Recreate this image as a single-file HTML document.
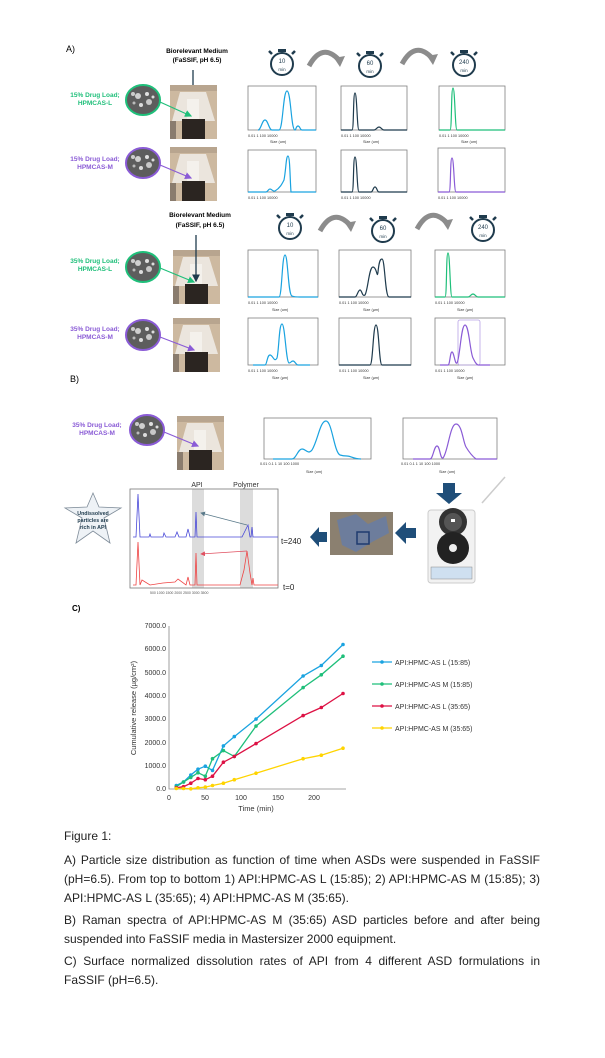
<!DOCTYPE html>
<html><head><meta charset="utf-8"><style>
html,body{margin:0;padding:0;background:#fff;}
svg{display:block;font-family:"Liberation Sans",Arial,sans-serif;}
.cap{position:absolute;left:64px;width:476px;font:12px/19px "Liberation Sans",Arial,sans-serif;color:#222;text-align:justify;}
</style></head><body>
<div style="position:relative;width:605px;height:1058px;overflow:hidden;">
<svg width="605" height="1058" viewBox="0 0 605 1058" xmlns="http://www.w3.org/2000/svg">
<defs>
<g id="photo">
<rect x="0" y="0" width="47" height="54" fill="#cdb9a0"/>
<rect x="0" y="0" width="47" height="6" fill="#b8a58f"/>
<path d="M10 7 L36 7 L45 36 L2 36 Z" fill="#ebe5dd"/>
<rect x="17" y="14" width="12" height="22" fill="#f4f1ec"/>
<rect x="12" y="34" width="23" height="20" fill="#2b2521"/>
<rect x="0" y="36" width="6" height="18" fill="#8a7c6e"/>
</g>
<g id="sem"><ellipse rx="17" ry="15" fill="#5d5d5d"/><circle cx="-5" cy="-4" r="3" fill="#cfcfcf"/><circle cx="4" cy="-6" r="2" fill="#e0e0e0"/><circle cx="6" cy="2" r="3" fill="#c8c8c8"/><circle cx="-2" cy="5" r="2" fill="#dcdcdc"/><circle cx="-9" cy="3" r="1.5" fill="#bbb"/><circle cx="10" cy="-3" r="1.5" fill="#ddd"/><circle cx="-10" cy="-6" r="2" fill="#ccc"/></g>
<g id="timer" fill="none" stroke="#1f3b4d"><circle r="11" stroke-width="2"/><rect x="-4" y="-15" width="8" height="3" fill="#1f3b4d" stroke="none"/><path d="M-10 -10 l-3 -3 M10 -10 l3 -3" stroke-width="2.5"/></g>
<marker id="ah" markerWidth="6" markerHeight="6" refX="5" refY="3" orient="auto"><path d="M0 0 L6 3 L0 6Z" fill="context-stroke"/></marker>
</defs>

<text x="66" y="52" font-size="9">A)</text>
<text x="197" y="53" font-size="6.5" font-weight="bold" text-anchor="middle">Biorelevant Medium</text>
<text x="197" y="62" font-size="6.5" font-weight="bold" text-anchor="middle">(FaSSIF, pH 6.5)</text>
<line x1="193" y1="70" x2="193" y2="114" stroke="#1f3b4d" stroke-width="1.3" marker-end="url(#ah)"/>

<use href="#timer" x="282" y="64"/><text x="282" y="63" font-size="6" text-anchor="middle" fill="#1f3b4d">10</text><text x="282" y="71" font-size="4.5" text-anchor="middle" fill="#1f3b4d">min</text>
<use href="#timer" x="370" y="66"/><text x="370" y="65" font-size="6" text-anchor="middle" fill="#1f3b4d">60</text><text x="370" y="73" font-size="4.5" text-anchor="middle" fill="#1f3b4d">min</text>
<use href="#timer" x="464" y="65"/><text x="464" y="64" font-size="6" text-anchor="middle" fill="#1f3b4d">240</text><text x="464" y="72" font-size="4.5" text-anchor="middle" fill="#1f3b4d">min</text>
<path d="M309 66 Q322 42 339 60" fill="none" stroke="#8c8c8c" stroke-width="5"/><path d="M334 58 L345 56 L340 67Z" fill="#8c8c8c"/>
<path d="M402 64 Q415 40 432 58" fill="none" stroke="#8c8c8c" stroke-width="5"/><path d="M427 56 L438 54 L433 65Z" fill="#8c8c8c"/>

<g font-size="6.5" font-weight="bold" text-anchor="middle">
<text x="95" y="97" fill="#1fbf7a">15% Drug Load;</text><text x="95" y="105" fill="#1fbf7a">HPMCAS-L</text>
<text x="95" y="161" fill="#8a5bd6">15% Drug Load;</text><text x="95" y="169" fill="#8a5bd6">HPMCAS-M</text>
<text x="95" y="263" fill="#1fbf7a">35% Drug Load;</text><text x="95" y="271" fill="#1fbf7a">HPMCAS-L</text>
<text x="95" y="331" fill="#8a5bd6">35% Drug Load;</text><text x="95" y="339" fill="#8a5bd6">HPMCAS-M</text>
<text x="97" y="427" fill="#8a5bd6">35% Drug Load;</text><text x="97" y="435" fill="#8a5bd6">HPMCAS-M</text>
</g>
<use href="#photo" x="170" y="85"/><use href="#photo" x="170" y="147"/>
<use href="#photo" x="173" y="250"/><use href="#photo" x="173" y="318"/><use href="#photo" x="177" y="416"/>
<g stroke-width="2" fill="none"><use href="#sem" x="143" y="100"/><ellipse cx="143" cy="100" rx="17" ry="15" stroke="#1fbf7a"/>
<use href="#sem" x="143" y="163"/><ellipse cx="143" cy="163" rx="17" ry="15" stroke="#8a5bd6"/>
<use href="#sem" x="143" y="267"/><ellipse cx="143" cy="267" rx="17" ry="15" stroke="#1fbf7a"/>
<use href="#sem" x="143" y="335"/><ellipse cx="143" cy="335" rx="17" ry="15" stroke="#8a5bd6"/>
<use href="#sem" x="147" y="430"/><ellipse cx="147" cy="430" rx="17" ry="15" stroke="#8a5bd6"/></g>
<g stroke-width="1.2"><line x1="160" y1="102" x2="191" y2="116" stroke="#1fbf7a" marker-end="url(#ah)"/>
<line x1="160" y1="165" x2="191" y2="178" stroke="#8a5bd6" marker-end="url(#ah)"/>
<line x1="160" y1="268" x2="194" y2="282" stroke="#1fbf7a" marker-end="url(#ah)"/>
<line x1="160" y1="337" x2="194" y2="350" stroke="#8a5bd6" marker-end="url(#ah)"/>
<line x1="164" y1="432" x2="198" y2="446" stroke="#8a5bd6" marker-end="url(#ah)"/></g>

<text x="200" y="217" font-size="6.5" font-weight="bold" text-anchor="middle">Biorelevant Medium</text>
<text x="200" y="227" font-size="6.5" font-weight="bold" text-anchor="middle">(FaSSIF, pH 6.5)</text>
<line x1="196" y1="235" x2="196" y2="281" stroke="#1f3b4d" stroke-width="1.3" marker-end="url(#ah)"/>
<use href="#timer" x="290" y="228"/><text x="290" y="227" font-size="6" text-anchor="middle" fill="#1f3b4d">10</text><text x="290" y="235" font-size="4.5" text-anchor="middle" fill="#1f3b4d">min</text>
<use href="#timer" x="383" y="231"/><text x="383" y="230" font-size="6" text-anchor="middle" fill="#1f3b4d">60</text><text x="383" y="238" font-size="4.5" text-anchor="middle" fill="#1f3b4d">min</text>
<use href="#timer" x="483" y="230"/><text x="483" y="229" font-size="6" text-anchor="middle" fill="#1f3b4d">240</text><text x="483" y="237" font-size="4.5" text-anchor="middle" fill="#1f3b4d">min</text>
<path d="M320 231 Q333 207 350 225" fill="none" stroke="#8c8c8c" stroke-width="5"/><path d="M345 223 L356 221 L351 232Z" fill="#8c8c8c"/>
<path d="M417 229 Q430 205 447 223" fill="none" stroke="#8c8c8c" stroke-width="5"/><path d="M442 221 L453 219 L448 230Z" fill="#8c8c8c"/>

<g fill="none" stroke="#7f7f7f" stroke-width="0.8">
<rect x="248" y="86" width="68" height="44"/><rect x="341" y="86" width="66" height="44"/><rect x="439" y="86" width="66" height="44"/>
<rect x="248" y="150" width="68" height="42"/><rect x="341" y="150" width="66" height="42"/><rect x="438" y="148" width="67" height="44"/>
<rect x="248" y="250" width="70" height="47"/><rect x="339" y="250" width="72" height="47"/><rect x="435" y="250" width="70" height="47"/>
<rect x="248" y="318" width="70" height="47"/><rect x="339" y="318" width="72" height="47"/><rect x="435" y="318" width="70" height="47"/>
<rect x="264" y="418" width="107" height="41"/><rect x="403" y="418" width="94" height="41"/>
<rect x="458" y="320" width="22" height="45" rx="2" stroke="#b9a3e6"/>
</g>
<g fill="none" stroke-width="1.2">
<path stroke="#1aa3e0" d="M258 130 C261 130 262 120 265 120 C268 120 269 130 272 130 L279 130 C283 130 283 91 287 91 C291 91 291 130 295 130 C296 130 296 126 298 126 C300 126 300 130 302 130 L316 130"/>
<path stroke="#1f3b4d" d="M341 130 L352 130 C354 130 353 93 355 93 C357 93 357 130 359 130 L374 130 C376 130 377 127 379 127 C381 127 382 130 384 130 L407 130"/>
<path stroke="#1fbf7a" d="M439 130 L450 130 C452 130 451 88 453 88 C455 88 455 130 457 130 L505 130"/>
<path stroke="#1aa3e0" d="M248 192 L266 192 C268 192 268 189 270 189 C272 189 273 192 275 191 C280 188 282 184 284 180 C286 170 286 156 288 156 C290 156 290 180 291 192 L316 192"/>
<path stroke="#1f3b4d" d="M341 192 L352 192 C354 192 353 157 355 157 C357 157 357 192 359 192 L371 192 C373 192 373 187 375 187 C377 187 377 192 379 192 L407 192"/>
<path stroke="#8a5bd6" d="M438 192 L449 192 C451 192 450 158 452 158 C454 158 454 192 456 192 L505 192"/>
<path stroke="#1aa3e0" d="M248 297 L279 297 C282 297 282 255 285 255 C288 255 288 295 292 296 C294 297 296 297 300 297 L318 297"/>
<path stroke="#1f3b4d" d="M339 297 L355 297 C357 297 358 290 360 290 C362 290 362 297 365 295 C368 290 369 267 373 267 C377 267 377 280 378 272 C379 262 380 259 382 259 C385 259 385 297 389 297 L411 297"/>
<path stroke="#1fbf7a" d="M435 297 L445 297 C447 297 446 253 448 253 C450 253 450 297 452 297 L468 297 C470 297 471 294 473 294 C475 294 476 297 478 297 L505 297"/>
<path stroke="#1aa3e0" d="M253 365 L265 365 C267 365 267 355 270 355 C273 355 274 363 277 358 C279 350 279 324 282 324 C285 324 286 362 289 363 C291 363 291 361 293 361 C295 361 296 365 298 365 L310 365"/>
<path stroke="#1f3b4d" d="M339 365 L370 365 C373 365 373 325 376 325 C379 325 379 365 382 365 L411 365"/>
<path stroke="#8a5bd6" d="M440 365 L448 365 C450 365 450 352 452 352 C454 352 455 365 457 363 C460 358 461 325 465 325 C469 325 470 352 473 358 C475 362 476 364 478 365 L490 365"/>
<path stroke="#1aa3e0" d="M273 459 L292 459 C296 459 298 449 302 449 C306 449 308 455 312 450 C318 440 320 421 326 421 C332 421 334 452 340 455 C343 456 344 456 347 456 C351 456 353 459 361 459"/>
<path stroke="#8a5bd6" d="M413 459 L430 459 C433 459 434 446 437 446 C440 446 440 459 443 458 C448 452 450 424 456 424 C462 424 463 442 466 447 C469 452 472 456 476 459 L497 459"/>
</g>
<g font-size="3.8" fill="#333">
<text x="248" y="137">0.01     1     100    10000</text><text x="341" y="137">0.01     1     100    10000</text><text x="439" y="137">0.01     1     100    10000</text>
<text x="270" y="143">Size (um)</text><text x="363" y="143">Size (um)</text><text x="461" y="143">Size (um)</text>
<text x="248" y="199">0.01     1     100    10000</text><text x="341" y="199">0.01     1     100    10000</text><text x="438" y="199">0.01     1     100    10000</text>
<text x="248" y="304">0.01     1     100    10000</text><text x="339" y="304">0.01     1     100    10000</text><text x="435" y="304">0.01     1     100    10000</text>
<text x="272" y="311">Size (um)</text><text x="363" y="311">Size (µm)</text><text x="457" y="311">Size (µm)</text>
<text x="248" y="372">0.01     1     100    10000</text><text x="339" y="372">0.01     1     100    10000</text><text x="435" y="372">0.01     1     100    10000</text>
<text x="272" y="379">Size (µm)</text><text x="363" y="379">Size (µm)</text><text x="457" y="379">Size (µm)</text>
<text x="260" y="465">0.01      0.1       1       10      100     1000</text><text x="401" y="465">0.01     0.1      1      10     100    1000</text>
<text x="306" y="473">Size (um)</text><text x="439" y="473">Size (um)</text>
</g>

<text x="70" y="382" font-size="9">B)</text>
<path d="M443 483 h12 v10 h7 l-13 11 l-13 -11 h7z" fill="#1f4e79"/>
<line x1="505" y1="477" x2="482" y2="503" stroke="#ccc" stroke-width="1.5"/>
<rect x="428" y="510" width="47" height="73" rx="3" fill="#f2f2f2" stroke="#ccc"/>
<circle cx="453" cy="522" r="14" fill="#333"/><circle cx="453" cy="522" r="9" fill="#555"/><rect x="451" y="519" width="4" height="3" fill="#fff"/>
<circle cx="453" cy="548" r="16" fill="#222"/><circle cx="453" cy="548" r="4" fill="#eee"/>
<rect x="431" y="567" width="41" height="12" fill="#cfe0f0" stroke="#888" stroke-width="0.5"/>
<path d="M395 533 L406 522 V528 H416 V538 H406 V544 Z" fill="#1f4e79"/>
<rect x="330" y="512" width="63" height="43" fill="#8b8070"/>
<path d="M337 520 L356 514 L368 524 L386 516 L389 533 L372 542 L356 552 L342 545 Z" fill="#6d7d9c"/>
<rect x="357" y="532" width="12" height="12" fill="none" stroke="#1f3b6e" stroke-width="1.5"/>
<path d="M310 537 L319 527 V532 H327 V542 H319 V547 Z" fill="#1f4e79"/>
<rect x="192" y="489" width="12" height="99" fill="#dcdcdc"/><rect x="240" y="489" width="13" height="99" fill="#dcdcdc"/>
<rect x="130" y="489" width="148" height="99" fill="none" stroke="#777" stroke-width="0.8"/>
<text x="197" y="487" font-size="7" text-anchor="middle" fill="#333">API</text>
<text x="246" y="487" font-size="7" text-anchor="middle" fill="#333">Polymer</text>
<path d="M133 537 L136 537 L138 494 L140 537 L149 537 L150 534 L151 537 L163 537 L164 533 L166 537 L175 537 L177 532 L179 537 L186 537 L188 529 L190 537 L195 537 L196 512 L197 537 L242 537 L248 525 L250 537 L251 537 L252 527 L253 537 L278 537" fill="none" stroke="#4a4ad8" stroke-width="0.8"/>
<path d="M133 585 L136 585 L138 542 L140 585 L142 580 L150 585 L163 583 L175 582 L178 579 L186 585 L188 577 L190 585 L195 585 L196 553 L197 585 L240 585 L244 570 L247 551 L250 573 L252 585 L253 578 L254 585 L278 585" fill="none" stroke="#ee4444" stroke-width="0.8"/>
<line x1="247" y1="525" x2="201" y2="513" stroke="#5a7a8a" stroke-width="0.8" marker-end="url(#ah)"/>
<line x1="247" y1="551" x2="201" y2="554" stroke="#e05060" stroke-width="0.8" marker-end="url(#ah)"/>
<text x="281" y="544" font-size="8" fill="#222">t=240</text><text x="283" y="590" font-size="8" fill="#222">t=0</text>
<g font-size="3.5" fill="#555"><text x="150" y="594">500     1000     1500     2000     2500     3000     3500</text></g>
<path d="M93 493 L99 507 L121 508 L104 518 L110 543 L93 531 L76 543 L82 518 L65 508 L87 507 Z" fill="#eef2f6" stroke="#7f8c99" stroke-width="0.8"/>
<g font-size="5.3" font-weight="bold" text-anchor="middle" fill="#1f3b4d"><text x="93" y="515">Undissolved</text><text x="93" y="522">particles are</text><text x="93" y="529">rich in API</text></g>

<text x="72" y="611" font-size="8" font-weight="bold">C)</text>
<g font-size="7" fill="#333" text-anchor="end">
<text x="166" y="628">7000.0</text><text x="166" y="651">6000.0</text><text x="166" y="675">5000.0</text><text x="166" y="698">4000.0</text><text x="166" y="721">3000.0</text><text x="166" y="745">2000.0</text><text x="166" y="768">1000.0</text><text x="166" y="791">0.0</text>
</g>
<g font-size="7" fill="#333" text-anchor="middle"><text x="169" y="800">0</text><text x="205" y="800">50</text><text x="241" y="800">100</text><text x="278" y="800">150</text><text x="314" y="800">200</text>
<text x="256" y="811" font-size="7.5">Time (min)</text></g>
<text transform="translate(136,708) rotate(-90)" font-size="7.5" fill="#333" text-anchor="middle">Cumulative release (µg/cm²)</text>
<path d="M169 626 V789 H346" fill="none" stroke="#888" stroke-width="0.8"/>
<g fill="none" stroke-width="1.3">
<polyline stroke="#1aa3e0" points="176.3,785.5 183.5,782 190.8,775 198,769.2 205.3,766.2 212.5,770.4 223.4,745.9 234.3,736.6 256,719.1 303.1,676 321.3,665.5 343,644.5"/>
<polyline stroke="#1fbf7a" points="176.3,786.7 183.5,782 190.8,777.4 198,772.7 205.3,776.2 212.5,758.7 223.4,750.6 234.3,756.4 256,726.1 303.1,687.6 321.3,674.8 343,656.2"/>
<polyline stroke="#dd1144" points="176.3,787.8 183.5,786.7 190.8,783.2 198,778.5 205.3,779.7 212.5,776.2 223.4,762.2 234.3,756.4 256,743.6 303.1,715.6 321.3,707.5 343,693.5"/>
<polyline stroke="#ffd400" points="176.3,788.5 183.5,788.5 190.8,788.8 198,787.8 205.3,787.1 212.5,785.5 223.4,783.2 234.3,779.7 256,773.2 303.1,758.7 321.3,755.2 343,748.2"/>
</g>
<g fill="#1aa3e0"><circle cx="176.3" cy="785.5" r="1.8"/><circle cx="183.5" cy="782" r="1.8"/><circle cx="190.8" cy="775" r="1.8"/><circle cx="198" cy="769.2" r="1.8"/><circle cx="205.3" cy="766.2" r="1.8"/><circle cx="212.5" cy="770.4" r="1.8"/><circle cx="223.4" cy="745.9" r="1.8"/><circle cx="234.3" cy="736.6" r="1.8"/><circle cx="256" cy="719.1" r="1.8"/><circle cx="303.1" cy="676" r="1.8"/><circle cx="321.3" cy="665.5" r="1.8"/><circle cx="343" cy="644.5" r="1.8"/></g>
<g fill="#1fbf7a"><circle cx="176.3" cy="786.7" r="1.8"/><circle cx="183.5" cy="782" r="1.8"/><circle cx="190.8" cy="777.4" r="1.8"/><circle cx="198" cy="772.7" r="1.8"/><circle cx="205.3" cy="776.2" r="1.8"/><circle cx="212.5" cy="758.7" r="1.8"/><circle cx="223.4" cy="750.6" r="1.8"/><circle cx="234.3" cy="756.4" r="1.8"/><circle cx="256" cy="726.1" r="1.8"/><circle cx="303.1" cy="687.6" r="1.8"/><circle cx="321.3" cy="674.8" r="1.8"/><circle cx="343" cy="656.2" r="1.8"/></g>
<g fill="#dd1144"><circle cx="176.3" cy="787.8" r="1.8"/><circle cx="183.5" cy="786.7" r="1.8"/><circle cx="190.8" cy="783.2" r="1.8"/><circle cx="198" cy="778.5" r="1.8"/><circle cx="205.3" cy="779.7" r="1.8"/><circle cx="212.5" cy="776.2" r="1.8"/><circle cx="223.4" cy="762.2" r="1.8"/><circle cx="234.3" cy="756.4" r="1.8"/><circle cx="256" cy="743.6" r="1.8"/><circle cx="303.1" cy="715.6" r="1.8"/><circle cx="321.3" cy="707.5" r="1.8"/><circle cx="343" cy="693.5" r="1.8"/></g>
<g fill="#ffd400"><circle cx="176.3" cy="788.5" r="1.8"/><circle cx="183.5" cy="788.5" r="1.8"/><circle cx="190.8" cy="788.8" r="1.8"/><circle cx="198" cy="787.8" r="1.8"/><circle cx="205.3" cy="787.1" r="1.8"/><circle cx="212.5" cy="785.5" r="1.8"/><circle cx="223.4" cy="783.2" r="1.8"/><circle cx="234.3" cy="779.7" r="1.8"/><circle cx="256" cy="773.2" r="1.8"/><circle cx="303.1" cy="758.7" r="1.8"/><circle cx="321.3" cy="755.2" r="1.8"/><circle cx="343" cy="748.2" r="1.8"/></g>
<g stroke-width="1.3">
<line x1="372" y1="662" x2="392" y2="662" stroke="#1aa3e0"/><circle cx="382" cy="662" r="1.8" fill="#1aa3e0"/>
<line x1="372" y1="684" x2="392" y2="684" stroke="#1fbf7a"/><circle cx="382" cy="684" r="1.8" fill="#1fbf7a"/>
<line x1="372" y1="706" x2="392" y2="706" stroke="#dd1144"/><circle cx="382" cy="706" r="1.8" fill="#dd1144"/>
<line x1="372" y1="728" x2="392" y2="728" stroke="#ffd400"/><circle cx="382" cy="728" r="1.8" fill="#ffd400"/>
</g>
<g font-size="7" fill="#333"><text x="395" y="665">API:HPMC-AS L (15:85)</text><text x="395" y="687">API:HPMC-AS M (15:85)</text><text x="395" y="709">API:HPMC-AS L (35:65)</text><text x="395" y="731">API:HPMC-AS M (35:65)</text></g>
</svg>
<div class="cap" style="top:827px;">Figure 1:</div>
<div class="cap" style="top:851px;">A) Particle size distribution as function of time when ASDs were suspended in FaSSIF (pH=6.5). From top to bottom 1) API:HPMC-AS L (15:85); 2) API:HPMC-AS M (15:85); 3) API:HPMC-AS L (35:65); 4) API:HPMC-AS M (35:65).</div>
<div class="cap" style="top:911px;">B) Raman spectra of API:HPMC-AS M (35:65) ASD particles before and after being suspended into FaSSIF media in Mastersizer 2000 equipment.</div>
<div class="cap" style="top:952px;">C) Surface normalized dissolution rates of API from 4 different ASD formulations in FaSSIF (pH=6.5).</div>
</div>
</body></html>
